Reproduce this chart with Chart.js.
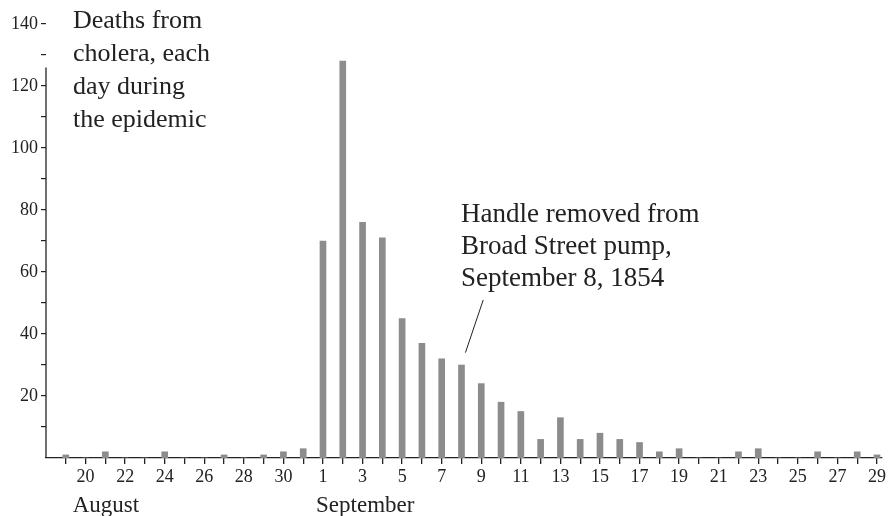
<!DOCTYPE html>
<html>
<head>
<meta charset="utf-8">
<script src="https://cdn.jsdelivr.net/npm/chart.js@4"></script>
<style>
  html, body { margin: 0; padding: 0; background: #fff; }
  #wrap { width: 888px; height: 516px; position: relative; }
</style>
</head>
<body>
<div id="wrap"><canvas id="chart" width="888" height="516"></canvas></div>
<script>
// Days from August 19 to September 29, 1854
const dayLabels = ['19','20','21','22','23','24','25','26','27','28','29','30','31',
  '1','2','3','4','5','6','7','8','9','10','11','12','13','14','15','16','17','18','19',
  '20','21','22','23','24','25','26','27','28','29'];
const deaths = [1, 0, 2, 0, 0, 2, 0, 0, 1, 0, 1, 2, 3,
  70, 128, 76, 71, 45, 37, 32, 30, 24, 18, 15, 6, 13, 6, 8, 6, 5, 2, 3,
  0, 0, 2, 3, 0, 0, 2, 0, 2, 1];
const monthLabels = [{ text: 'August', at: 0.35 }, { text: 'September', at: 12.65 }];
const titleLines = ['Deaths from', 'cholera, each', 'day during', 'the epidemic'];
const noteLines = ['Handle removed from', 'Broad Street pump,', 'September 8, 1854'];
const noteDay = 20; // September 8

const SERIF = '"Liberation Serif", "DejaVu Serif", serif';
const INK = '#222';

const textPlugin = {
  id: 'annotations',
  afterDraw(chart) {
    const ctx = chart.ctx;
    const x = chart.scales.x, y = chart.scales.y;
    ctx.save();
    ctx.fillStyle = INK;
    ctx.textBaseline = 'alphabetic';
    ctx.textAlign = 'left';

    // y axis line, range frame up to the largest value
    ctx.strokeStyle = INK;
    ctx.lineWidth = 1.3;
    ctx.beginPath();
    ctx.moveTo(x.left, y.getPixelForValue(0));
    ctx.lineTo(x.left, y.getPixelForValue(Math.max(...deaths) - 2));
    ctx.stroke();

    // title
    ctx.font = '26px ' + SERIF;
    titleLines.forEach((t, i) => ctx.fillText(t, 73, 28 + i * 33));

    // note
    ctx.font = '27px ' + SERIF;
    noteLines.forEach((t, i) => ctx.fillText(t, 461, 222 + i * 32));

    // leader line
    ctx.lineWidth = 1;
    ctx.beginPath();
    ctx.moveTo(x.getPixelForValue(noteDay + 1.1), y.getPixelForValue(51));
    ctx.lineTo(x.getPixelForValue(noteDay + 0.2), y.getPixelForValue(34));
    ctx.stroke();

    // month labels
    ctx.font = '23px ' + SERIF;
    monthLabels.forEach(m => {
      ctx.fillText(m.text, x.getPixelForValue(m.at), 512);
    });
    ctx.restore();
  }
};

new Chart(document.getElementById('chart'), {
  type: 'bar',
  data: {
    datasets: [{
      data: deaths.map((v, i) => ({ x: i, y: v })),
      backgroundColor: '#8c8c8c',
      borderWidth: 0,
      barThickness: 6
    }]
  },
  options: {
    responsive: false,
    animation: false,
    layout: { padding: { top: 24, right: 6, bottom: 0, left: 0 } },
    plugins: { legend: { display: false }, tooltip: { enabled: false } },
    scales: {
      x: {
        type: 'linear',
        offset: false,
        min: -1,
        max: 41.25,
        afterFit: s => { s.height = 58; },
        afterBuildTicks: s => { s.ticks = dayLabels.map((_, i) => ({ value: i })); },
        grid: { offset: false, drawOnChartArea: false, drawTicks: true, tickLength: 6, color: INK, lineWidth: 1.3 },
        border: { display: true, color: INK, width: 1.3 },
        ticks: {
          autoSkip: false,
          maxRotation: 0,
          padding: 2,
          color: INK,
          font: { family: SERIF, size: 18 },
          callback: (v, i) => (i % 2 === 1 ? dayLabels[i] : '')
        }
      },
      y: {
        min: 0,
        max: 140,
        afterFit: s => { s.width = 46; },
        afterBuildTicks: s => {
          const t = [];
          for (let v = 10; v <= 140; v += 10) t.push({ value: v });
          s.ticks = t;
        },
        grid: { drawOnChartArea: false, drawTicks: true, tickLength: 5, color: INK, lineWidth: 1.2 },
        border: { display: false },
        ticks: {
          autoSkip: false,
          padding: 3,
          color: INK,
          font: { family: SERIF, size: 18 },
          callback: v => (v % 20 === 0 ? String(v) : '')
        }
      }
    }
  },
  plugins: [textPlugin]
});
</script>
</body>
</html>
